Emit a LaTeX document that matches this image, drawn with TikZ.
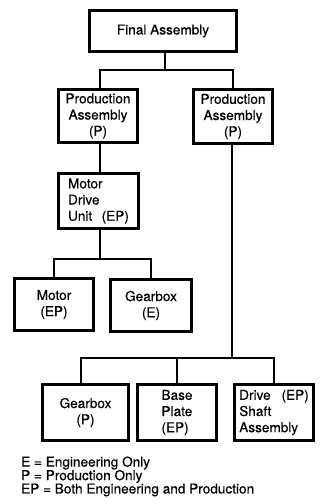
\documentclass[tikz,border=0pt]{standalone}
\usepackage{fontspec}
\setmainfont{TeX Gyre Heros}[FakeBold=0.5]
\begin{document}
\begin{tikzpicture}[x=1pt,y=-1pt,
  box/.style={draw=black,line width=2.6pt,inner sep=0pt,align=center,
    font=\fontsize{13.6}{16.2}\selectfont},
  lbox/.style={box,align=left},
  conn/.style={draw=black,line width=1.7pt},
  legend/.style={anchor=west,inner sep=0pt,font=\fontsize{13.6}{16}\selectfont}]
\useasboundingbox (0,0) rectangle (321,499);
\node[box,minimum width=147pt,minimum height=41pt] (fa) at (163,31) {Final Assembly};
\node[box,minimum width=79pt,minimum height=53pt] (pa1) at (98,116) {Production\\Assembly\\(P)};
\node[box,minimum width=79pt,minimum height=54pt] (pa2) at (233,116.5) {Production\\Assembly\\(P)};
\node[lbox,minimum width=80pt,minimum height=55pt] (mdu) at (98.5,201) {Motor\\Drive\\Unit\hspace{0.7em}(EP)};
\node[box,minimum width=79pt,minimum height=52pt] (motor) at (54,304.5) {Motor\\(EP)};
\node[box,minimum width=81pt,minimum height=52pt] (gbe) at (151,305.5) {Gearbox\\(E)};
\node[box,minimum width=86pt,minimum height=56pt] (gbp) at (85.5,412.5) {Gearbox\\(P)};
\node[lbox,minimum width=79pt,minimum height=56pt] (base) at (177,412.5) {Base\\Plate\\(EP)};
\node[lbox,minimum width=79pt,minimum height=56pt] (drive) at (274,412.5) {Drive\hspace{0.8em}(EP)\\Shaft\\Assembly};
% junctions
\coordinate (j1) at (165,70);
\coordinate (j2) at (100,259);
\coordinate (j3) at (232,358);
% connectors
\draw[conn] (fa.south -| j1) -- (j1);
\draw[conn] (pa1.north -| 100,0) |- (j1) -| (pa2.north);
\draw[conn] (pa1.south -| j2) -- (mdu.north -| j2);
\draw[conn] (mdu.south -| j2) -- (j2);
\draw[conn] (motor.north) |- (j2) -| (gbe.north);
\draw[conn] (pa2.south -| j3) -- (j3);
\draw[conn] (gbp.north -| 81,0) |- (j3) -| (drive.north);
\draw[conn] (base.north) -- (base.north |- j3);
% legend
\node[legend] (l1) at (21,463) {E = Engineering Only};
\node[legend] (l2) at (21,476.5) {P = Production Only};
\node[legend] (l3) at (21,490) {EP = Both Engineering and Production};
\end{tikzpicture}
\end{document}
